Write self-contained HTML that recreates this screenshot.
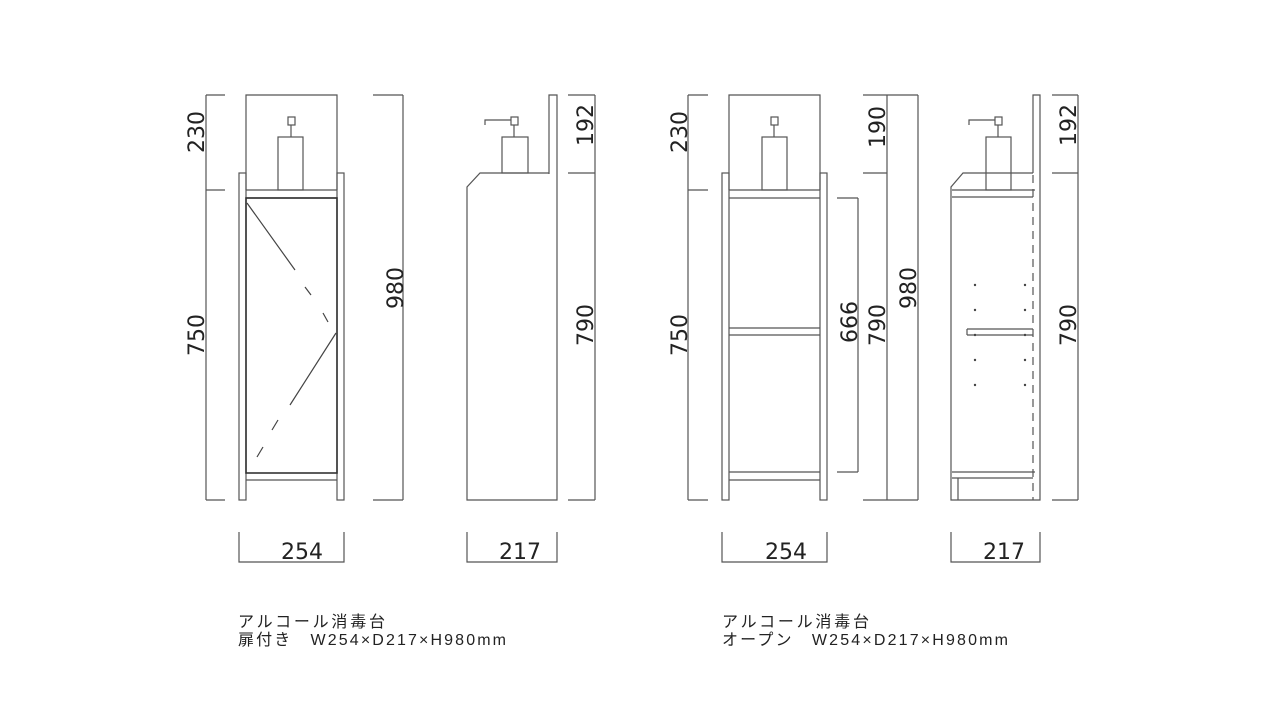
<!DOCTYPE html>
<html><head><meta charset="utf-8"><style>
html,body{margin:0;padding:0;background:#fff;}
svg{display:block}
text{font-family:"DejaVu Sans","Liberation Sans",sans-serif;fill:#222}
.c{font-family:"Liberation Sans","Noto Sans CJK JP",sans-serif;font-size:16px;fill:#222}
</style></head><body>
<svg width="1280" height="720" viewBox="0 0 1280 720" xmlns="http://www.w3.org/2000/svg">
<g fill="none" stroke="#555" stroke-width="1.2">
<path d="M206 95H225M206 190H225M206 500H225M206 95V500"/>
<path d="M246 190V95H337V190"/>
<rect x="239" y="173" width="7" height="327"/>
<rect x="337" y="173" width="7" height="327"/>
<path d="M246 190H337M246 198H337"/>
<rect x="246" y="198" width="91" height="275" stroke="#333" stroke-width="1.6"/>
<path d="M246 480H337"/>
<path d="M247 203L295 270M305 287L311 295M323 313L328 322" stroke="#444"/>
<path d="M336 333L290 405M278 420L272 430M263 447L257 457" stroke="#444"/>
<rect x="278" y="137" width="25" height="53"/>
<rect x="288" y="117" width="7" height="8"/>
<path d="M291 125V137"/>
<path d="M373 95H403M373 500H403M403 95V500"/>
<path d="M549 174V95H557V500H467V187L480 173H549"/>
<rect x="502" y="137" width="26" height="36"/>
<rect x="511" y="117" width="7" height="8"/>
<path d="M514 125V137M511 120H485V125"/>
<path d="M568 95H595M568 173H595M568 500H595M595 95V500"/>
<path d="M688 95H708M688 190H708M688 500H708M688 95V500"/>
<path d="M729 190V95H820V190"/>
<rect x="722" y="173" width="7" height="327"/>
<rect x="820" y="173" width="7" height="327"/>
<path d="M729 190H820M729 198H820M729 328H820M729 335H820M729 472H820M729 480H820"/>
<rect x="762" y="137" width="25" height="53"/>
<rect x="771" y="117" width="7" height="8"/>
<path d="M774 125V137"/>
<path d="M837 198H858M837 472H858M858 198V472"/>
<path d="M863 95H918M863 173H887M863 500H918M887 95V500M918 95V500"/>
<path d="M1033 173V95H1040V500H951V187L963 173H1033"/>
<path d="M952 190H1035M952 197H1033M952 472H1035M952 478H1033M958 478V500"/>
<path d="M967 329H1033M967 335H1033M967 329V335"/>
<path d="M1033 175V500" stroke-dasharray="8 6"/>
<rect x="986" y="137" width="25" height="53"/>
<rect x="995" y="117" width="7" height="8"/>
<path d="M998 125V137M995 120H969V125"/>
<path d="M1052 95H1078M1052 173H1078M1052 500H1078M1078 95V500"/>
<path d="M239 532V562H344V532M467 532V562H557V532M722 532V562H827V532M951 532V562H1040V532"/>
</g>
<g fill="#444">
<circle cx="975" cy="285" r="1.2"/><circle cx="975" cy="310" r="1.2"/><circle cx="975" cy="335" r="1.2"/><circle cx="975" cy="360" r="1.2"/><circle cx="975" cy="385" r="1.2"/>
<circle cx="1025" cy="285" r="1.2"/><circle cx="1025" cy="310" r="1.2"/><circle cx="1025" cy="335" r="1.2"/><circle cx="1025" cy="360" r="1.2"/><circle cx="1025" cy="385" r="1.2"/>
</g>
<g font-size="22" text-anchor="middle">
<text transform="translate(204,132) rotate(-90)">230</text>
<text transform="translate(204,335) rotate(-90)">750</text>
<text transform="translate(403,288) rotate(-90)">980</text>
<text transform="translate(593,125) rotate(-90)">192</text>
<text transform="translate(593,325) rotate(-90)">790</text>
<text transform="translate(687,132) rotate(-90)">230</text>
<text transform="translate(687,335) rotate(-90)">750</text>
<text transform="translate(857,322) rotate(-90)">666</text>
<text transform="translate(885,127) rotate(-90)">190</text>
<text transform="translate(885,325) rotate(-90)">790</text>
<text transform="translate(916,288) rotate(-90)">980</text>
<text transform="translate(1076,125) rotate(-90)">192</text>
<text transform="translate(1076,325) rotate(-90)">790</text>
<text x="302" y="559">254</text>
<text x="520" y="559">217</text>
<text x="786" y="559">254</text>
<text x="1004" y="559">217</text>
</g>
<text class="c" x="238" y="627" textLength="147" lengthAdjust="spacing">アルコール消毒台</text>
<text class="c" x="238" y="645" textLength="268" lengthAdjust="spacing">扉付き　W254×D217×H980mm</text>
<text class="c" x="722" y="627" textLength="147" lengthAdjust="spacing">アルコール消毒台</text>
<text class="c" x="722" y="645" textLength="286" lengthAdjust="spacing">オープン　W254×D217×H980mm</text>
</svg>
</body></html>
